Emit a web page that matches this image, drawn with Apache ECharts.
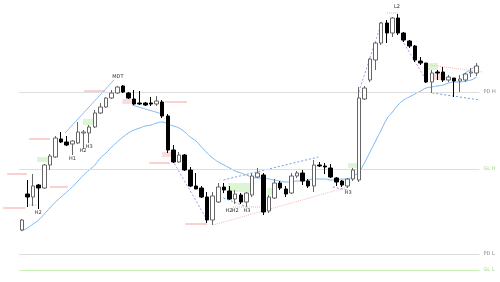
<!DOCTYPE html>
<html><head><meta charset="utf-8">
<script src="https://cdn.jsdelivr.net/npm/echarts@6/dist/echarts.min.js"></script>
<style>html,body{margin:0;padding:0;background:#fff}#c{width:500px;height:282px}</style>
</head><body><div id="c"></div>
<script>
// bar numbers
const bars = Array.from({length: 82}, (_, i) => String(i + 1));
// OHLC (price units)
const opens  = [52,88,85,97,94,117,125,143,140,138, 139,149,149,155,169,175,184,189,196,189, 183,179,179,179,178,180,166,132,120,127, 112,96,94,85,62,80,95,91,83,87, 80,87,105,107,71,84,99,93,89,106, 109,101,96,117,116,114,104,101,96,103, 102,183,202,222,239,259,249,264,249,241, 236,221,219,200,210,210,202,204,201,202, 209,209];
const closes = [62,85,96,94,117,126,144,140,137,141, 150,150,155,169,175,184,189,195,190,184, 178,178,177,178,181,166,132,120,127,112, 96,93,85,62,86,95,92,83,88,80, 89,106,109,70,85,99,94,88,106,109, 101,96,117,116,115,105,100,97,103,112, 184,194,223,239,259,249,264,249,242,236, 222,219,200,209,209,202,205,201,203,208, 210,216];
const lows   = [51,75,76,73,93,112,124,139,136,127, 138,133,139,154,168,174,183,188,189,183, 177,177,176,176,176,164,129,119,119,111, 95,93,84,59,57,79,89,82,78,78, 75,85,104,67,69,83,92,85,88,104, 97,94,90,115,108,104,96,95,94,101, 100,182,200,212,237,239,245,247,240,234, 220,217,199,189,202,200,200,185,190,200, 205,206];
const highs  = [63,102,108,98,118,128,146,150,146,142, 160,152,157,172,179,185,192,196,197,190, 192,191,180,185,186,182,168,137,130,128, 115,109,96,90,90,99,99,96,92,89, 90,109,114,109,87,103,101,96,109,111, 112,103,122,120,119,118,105,102,104,114, 195,196,224,240,260,262,265,268,250,242, 237,225,219,212,212,215,207,204,207,209, 214,219];
// moving average
const ema = [51,54,58,62,68,74,80,85,90,95, 101,107,112,117,124,129,135,140,145,149, 152,154,156,157,159,160,158,156,154,150, 145,141,135,129,124,120,117,114,111,109, 107,105,104,104,103,102,101,100,100,101, 101,102,103,103,103,102,102,103,103,106, 110,119,130,141,152,163,170,177,182,185, 188,191,194,195,196,197,199,200,200,201, 202,205];
// key levels
const levelNames  = ['PD H','GL H','PD L','GL L'];
const levelValues = [190, 113, 28, 12];
// annotations: [barIndexStart, barIndexEnd, price]
const redLevels = [[11.1,14.8,191],[1.3,5.0,143],[-2.6,0.9,108],[-3.3,0.6,74],[5.0,8.2,95],[25.5,29.4,180],[22.7,26.4,119],[29.1,33.0,58]];
const orangeLevels = [[0.9,2.7,77],[37.6,43.0,75]];
const greenLevels = [[65.0,67.0,269]];
// trend lines: [i1, p1, i2, p2]
const pinkTrend = [[34.1,57,58.1,95],[72.7,217,82.0,210]];
const purpleTrend = [[26.8,122,33.0,62],[60.0,190,64.1,260],[67.7,242,72.2,200]];
const blueTrend = [[7.7,149,16.4,202],[19.6,177,25.0,168],[78.4,207,81.2,217]];
const blueDashed = [[35.9,102,52.8,125],[35.9,84,40.1,75],[55.4,95,57.9,92],[73.1,189,81.6,182]];
// zones: [i1, i2, p1, p2]
const greenZones = [[2.7,5.0,120,125],[10.9,13.0,157,163],[36.7,41.2,90,99],[43.7,45.1,87,94],[58.1,59.9,114,119],[72.3,74.1,212,219]];
const pinkZones = [[17.9,19.6,178,183],[25.0,26.8,125,130],[72.7,75.4,202,209]];
// text marks
const markText = ['MDT','H2','H1','H2','H3','H2','H2','H3','H3','L2'];
const markIdx  = [17.1,2.9,9.0,10.9,12.0,36.9,38.0,40.1,58.1,66.8];
const markPrice= [205,69,123,131,135,71,71,71,89,275];

const chart = echarts.init(document.getElementById('c'), null, {renderer:'canvas'});
function segSeries(rows, style, z){
  return {type:'custom', xAxisIndex:1, yAxisIndex:0, silent:true, z:z||3, clip:false,
    data: rows,
    renderItem:(p, api)=>{
      const a = api.coord([api.value(0), api.value(1)]);
      const b = api.coord([api.value(2), api.value(3)]);
      return {type:'line', shape:{x1:a[0],y1:a[1],x2:b[0],y2:b[1]}, style:Object.assign({fill:null}, style)};
    }};
}
function hz(rows){ return rows.map(r=>[r[0], r[2], r[1], r[2]]); }
function zoneSeries(rows, color){
  return {type:'custom', xAxisIndex:1, yAxisIndex:0, silent:true, z:1, clip:false,
    data: rows,
    renderItem:(p, api)=>{
      const a = api.coord([api.value(0), api.value(3)]);
      const b = api.coord([api.value(1), api.value(2)]);
      return {type:'rect', shape:{x:a[0], y:a[1], width:b[0]-a[0], height:b[1]-a[1]}, style:{fill:color}};
    }};
}
const option = {
  animation:false,
  grid:{left:19, right:20.5, top:0, bottom:0},
  xAxis:[
    {type:'category', data:bars, show:false, boundaryGap:true},
    {type:'value', min:-0.5, max:81.5, show:false}
  ],
  yAxis:{type:'value', min:0, max:282, show:false},
  series:[
    zoneSeries(greenZones, '#dcf5d4'),
    zoneSeries(pinkZones, '#fbdcdc'),
    {type:'candlestick', data: bars.map((_, i)=>[opens[i], closes[i], lows[i], highs[i]]),
     barWidth:4, z:5,
     itemStyle:{color:'#ffffff', color0:'#000000', borderColor:'#666666', borderColor0:'#000000', borderWidth:1},
     markLine:{symbol:'none', silent:true, animation:false,
       data: levelValues.map((v,i)=>({yAxis:v,
         lineStyle:{color: i%2 ? '#c9f2b4' : '#dddddd', type:'solid', width:1},
         label:{show:true, position:'end', formatter:levelNames[i], fontSize:5, fontFamily:'DejaVu Sans',
                color: i%2 ? '#a6dc8c' : '#888888', distance:4}}))}
    },
    {type:'line', data:ema, smooth:true, symbol:'none', z:4, lineStyle:{color:'#79b6f2', width:1}},
    segSeries(hz(redLevels), {stroke:'#f4a3a3', lineWidth:1}),
    segSeries(hz(orangeLevels), {stroke:'#f2b48a', lineWidth:1, lineDash:[1,1]}),
    segSeries(hz(greenLevels), {stroke:'#9fd88a', lineWidth:1, lineDash:[1,1]}),
    segSeries(pinkTrend, {stroke:'#f6b9b9', lineWidth:1, lineDash:[1,1]}),
    segSeries(purpleTrend, {stroke:'#b58ef0', lineWidth:1, lineDash:[2,2]}),
    segSeries(blueTrend, {stroke:'#8cbcf2', lineWidth:1}),
    segSeries(blueDashed, {stroke:'#6f9fe6', lineWidth:1, lineDash:[2,2]}),
    {type:'custom', xAxisIndex:1, yAxisIndex:0, silent:true, z:6, clip:false,
     data: markIdx.map((x,i)=>[x, markPrice[i]]),
     renderItem:(p, api)=>{
       const a = api.coord([api.value(0), api.value(1)]);
       return {type:'text', x:a[0], y:a[1], style:{text:markText[p.dataIndex], fill:'#333', fontSize:5,
         fontFamily:'DejaVu Sans', align:'center', verticalAlign:'middle'}};
     }}
  ]
};
chart.setOption(option);
</script></body></html>
